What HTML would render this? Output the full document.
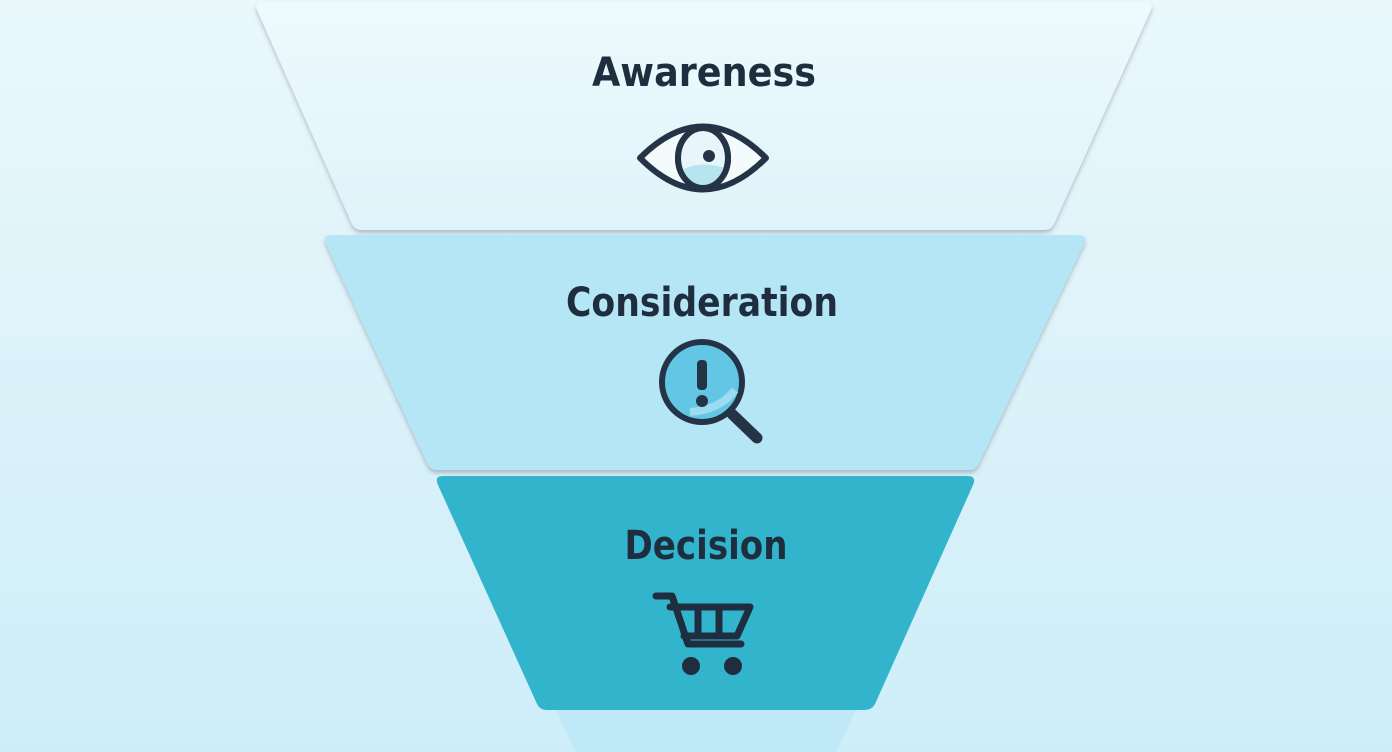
<!DOCTYPE html>
<html><head><meta charset="utf-8"><style>
html,body{margin:0;padding:0;width:1392px;height:752px;overflow:hidden;}
body{background:linear-gradient(180deg,#eaf8fc 0%,#d9f1f9 60%,#cdeef9 100%);}
svg{display:block}
text{font-family:"DejaVu Sans","Liberation Sans",sans-serif;font-weight:bold;fill:#1f2e3e;text-anchor:middle}
</style></head><body>
<svg width="1392" height="752" viewBox="0 0 1392 752">
<defs>
<filter id="sh" x="-5%" y="-5%" width="110%" height="115%"><feDropShadow dx="0" dy="3" stdDeviation="2" flood-color="#556" flood-opacity="0.35"/></filter>
<linearGradient id="g1" x1="0" y1="0" x2="0" y2="1"><stop offset="0" stop-color="#eefafd"/><stop offset="1" stop-color="#dff3fa"/></linearGradient>
</defs>
<polygon points="556,710 856,710 836,752 576,752" fill="#c0e9f8"/>
<path d="M262,2 L1146,2 Q1154,2 1151,10 L1054,224 Q1051,230 1044,230 L362,230 Q355,230 352,224 L257,10 Q254,2 262,2Z" fill="url(#g1)" filter="url(#sh)"/>
<path d="M332,235 L1078,235 Q1088,235 1084,244 L978,465 Q975,470 969,470 L438,470 Q431,470 428,465 L326,244 Q322,235 332,235Z" fill="#b5e6f6" filter="url(#sh)"/>
<path d="M443,476 L967,476 Q977,476 973,485 L875,704 Q872,710 864,710 L547,710 Q540,710 537,704 L438,485 Q434,476 443,476Z" fill="#32b4cd"/>
<text x="704" y="86" font-size="40" textLength="224" lengthAdjust="spacingAndGlyphs">Awareness</text>
<text x="702" y="316" font-size="40" textLength="272" lengthAdjust="spacingAndGlyphs">Consideration</text>
<text x="706" y="559" font-size="40" textLength="163" lengthAdjust="spacingAndGlyphs">Decision</text>
<!-- eye -->
<path d="M640,158 Q703,95 766,158 Q703,221 640,158Z" fill="#f4fbfd" stroke="#243446" stroke-width="6" stroke-linejoin="round"/>
<ellipse cx="703" cy="158" rx="25" ry="30" fill="#e8f6fb" stroke="#243446" stroke-width="6"/>
<path d="M682,170 Q700,160 725,168 Q720,185 703,186 Q688,185 682,170Z" fill="#b7e5ef"/>
<ellipse cx="703" cy="158" rx="25" ry="30" fill="none" stroke="#243446" stroke-width="6"/>
<circle cx="709" cy="156" r="6" fill="#243446"/>
<!-- magnifier -->
<line x1="732" y1="414" x2="757" y2="438" stroke="#243446" stroke-width="11" stroke-linecap="round"/>
<circle cx="702" cy="382" r="40" fill="#62c6e4" stroke="#243446" stroke-width="6"/>
<path d="M690,412 Q720,410 735,390" stroke="#9ddcf0" stroke-width="8" fill="none"/>
<rect x="697" y="360" width="10" height="30" rx="4" fill="#243446"/>
<circle cx="702" cy="401" r="6" fill="#243446"/>
<!-- cart -->
<g fill="none" stroke="#1f2e3e" stroke-width="7" stroke-linecap="round" stroke-linejoin="round">
<path d="M656,596 L672,596 L688,644 L741,644"/>
<path d="M670,607 L750,607 L737,636 L684,636"/>
<line x1="698" y1="609" x2="698" y2="634"/>
<line x1="719" y1="609" x2="719" y2="634"/>
</g>
<circle cx="691" cy="666" r="9" fill="#1f2e3e"/>
<circle cx="733" cy="666" r="9" fill="#1f2e3e"/>
</svg>
</body></html>
